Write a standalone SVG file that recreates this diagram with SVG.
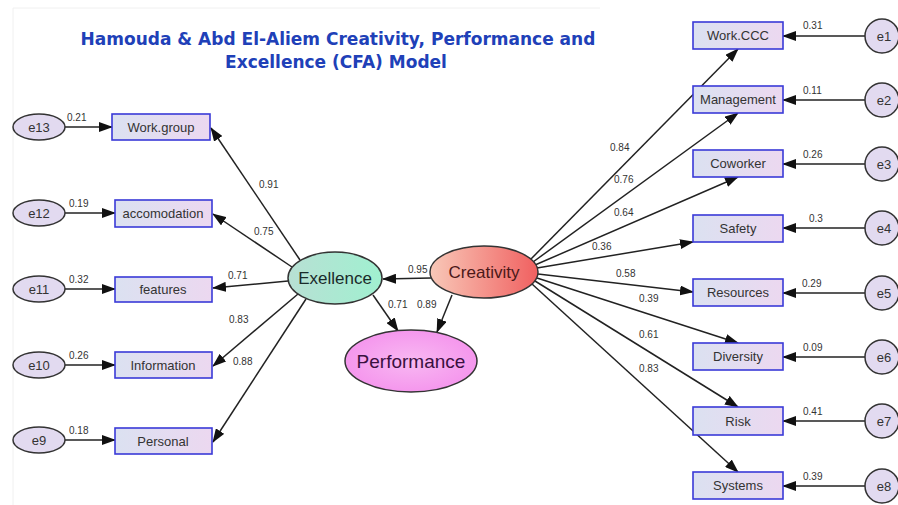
<svg xmlns="http://www.w3.org/2000/svg" width="898" height="505" viewBox="0 0 898 505">
<defs>
<linearGradient id="gBox" x1="0" y1="0" x2="1" y2="0"><stop offset="0" stop-color="#dbe1f1"/><stop offset="1" stop-color="#ecd8f0"/></linearGradient>
<linearGradient id="gCre" x1="0" y1="0" x2="1" y2="0"><stop offset="0" stop-color="#f8c8b8"/><stop offset="1" stop-color="#f06060"/></linearGradient>
<linearGradient id="gExe" x1="0" y1="0" x2="1" y2="0"><stop offset="0" stop-color="#b8e0d4"/><stop offset="1" stop-color="#a0f0d0"/></linearGradient>
<radialGradient id="gPer" cx="0.5" cy="0.5" r="0.6"><stop offset="0" stop-color="#f8b8f2"/><stop offset="1" stop-color="#f490ec"/></radialGradient>
<marker id="ah" markerUnits="userSpaceOnUse" markerWidth="14" markerHeight="10" refX="13" refY="5" orient="auto"><path d="M0,0 L14,5 L0,10 Z" fill="#111"/></marker>
<style>
.box{fill:url(#gBox);stroke:#3a3ad8;stroke-width:1.6}
.err{fill:#e2daf0;stroke:#333;stroke-width:1.5}
.lbl{font-family:"Liberation Sans",Arial,sans-serif;font-size:13px;fill:#333;text-anchor:middle}
.num{font-family:"Liberation Sans",Arial,sans-serif;font-size:10px;fill:#333}
.edge{stroke:#222;stroke-width:1.5;fill:none;marker-end:url(#ah)}
.title{font-family:"DejaVu Sans",Verdana,sans-serif;font-weight:bold;font-size:17px;fill:#2040b8;text-anchor:middle}
</style>
</defs>
<rect width="898" height="505" fill="#fff"/>
<path d="M13,8 V505 M13,8 H600" stroke="#f0f0f0" stroke-width="1" fill="none"/>
<text class="title" x="338" y="45">Hamouda &amp; Abd El-Aliem Creativity, Performance and</text>
<text class="title" x="336" y="68">Excellence (CFA) Model</text>

<g id="connectors">
<line class="edge" x1="65" y1="127" x2="112" y2="127"/>
<line class="edge" x1="65" y1="213" x2="115" y2="213"/>
<line class="edge" x1="65" y1="289" x2="115" y2="289"/>
<line class="edge" x1="65" y1="365" x2="115" y2="365"/>
<line class="edge" x1="65" y1="440" x2="115" y2="440"/>
<line class="edge" x1="300" y1="260" x2="211" y2="128"/>
<line class="edge" x1="292" y1="267" x2="213" y2="214"/>
<line class="edge" x1="288" y1="281" x2="213" y2="288"/>
<line class="edge" x1="298" y1="294" x2="213" y2="366"/>
<line class="edge" x1="306" y1="299" x2="213" y2="442"/>
<line class="edge" x1="431" y1="278" x2="383" y2="279"/>
<line class="edge" x1="373" y1="295" x2="398" y2="331"/>
<line class="edge" x1="452" y1="295" x2="437" y2="332"/>
<line class="edge" x1="530" y1="260" x2="738" y2="49"/>
<line class="edge" x1="533" y1="262" x2="738" y2="113"/>
<line class="edge" x1="535" y1="265" x2="738" y2="177"/>
<line class="edge" x1="537" y1="268" x2="693" y2="242"/>
<line class="edge" x1="538" y1="274" x2="693" y2="292"/>
<line class="edge" x1="537" y1="278" x2="738" y2="343"/>
<line class="edge" x1="535" y1="281" x2="738" y2="407"/>
<line class="edge" x1="532" y1="284" x2="738" y2="472"/>
<line class="edge" x1="865" y1="36" x2="783" y2="36"/>
<line class="edge" x1="865" y1="100" x2="783" y2="100"/>
<line class="edge" x1="865" y1="164" x2="783" y2="164"/>
<line class="edge" x1="865" y1="228" x2="783" y2="228"/>
<line class="edge" x1="865" y1="293" x2="783" y2="293"/>
<line class="edge" x1="865" y1="357" x2="783" y2="357"/>
<line class="edge" x1="865" y1="421" x2="783" y2="421"/>
<line class="edge" x1="865" y1="486" x2="783" y2="486"/>
</g>

<g id="edge-labels">
<text class="num" x="67" y="121">0.21</text>
<text class="num" x="69" y="207">0.19</text>
<text class="num" x="69" y="283">0.32</text>
<text class="num" x="69" y="359">0.26</text>
<text class="num" x="69" y="434">0.18</text>
<text class="num" x="259" y="188">0.91</text>
<text class="num" x="254" y="235">0.75</text>
<text class="num" x="228" y="279">0.71</text>
<text class="num" x="229" y="323">0.83</text>
<text class="num" x="233" y="365">0.88</text>
<text class="num" x="408" y="273">0.95</text>
<text class="num" x="388" y="308">0.71</text>
<text class="num" x="417" y="308">0.89</text>
<text class="num" x="610" y="151">0.84</text>
<text class="num" x="614" y="183">0.76</text>
<text class="num" x="614" y="216">0.64</text>
<text class="num" x="592" y="250">0.36</text>
<text class="num" x="616" y="277">0.58</text>
<text class="num" x="639" y="302">0.39</text>
<text class="num" x="639" y="338">0.61</text>
<text class="num" x="639" y="372">0.83</text>
<text class="num" x="803" y="29">0.31</text>
<text class="num" x="803" y="94">0.11</text>
<text class="num" x="803" y="158">0.26</text>
<text class="num" x="809" y="222">0.3</text>
<text class="num" x="802" y="287">0.29</text>
<text class="num" x="803" y="351">0.09</text>
<text class="num" x="803" y="415">0.41</text>
<text class="num" x="803" y="480">0.39</text>
</g>

<g id="e13"><ellipse class="err" cx="39" cy="127" rx="26" ry="13"/><text class="lbl" x="39" y="132">e13</text></g>
<g id="e12"><ellipse class="err" cx="39" cy="213" rx="26" ry="13"/><text class="lbl" x="39" y="218">e12</text></g>
<g id="e11"><ellipse class="err" cx="39" cy="289" rx="26" ry="13"/><text class="lbl" x="39" y="294">e11</text></g>
<g id="e10"><ellipse class="err" cx="39" cy="365" rx="26" ry="13"/><text class="lbl" x="39" y="370">e10</text></g>
<g id="e9"><ellipse class="err" cx="39" cy="440" rx="26" ry="13"/><text class="lbl" x="39" y="445">e9</text></g>

<g id="workgroup"><rect class="box" x="112" y="114" width="98" height="26"/><text class="lbl" x="161" y="132">Work.group</text></g>
<g id="accomodation"><rect class="box" x="115" y="200" width="97" height="27"/><text class="lbl" x="163" y="218">accomodation</text></g>
<g id="features"><rect class="box" x="115" y="277" width="97" height="25"/><text class="lbl" x="163" y="294">features</text></g>
<g id="information"><rect class="box" x="115" y="352" width="97" height="26"/><text class="lbl" x="163" y="370">Information</text></g>
<g id="personal"><rect class="box" x="115" y="428" width="97" height="26"/><text class="lbl" x="163" y="446">Personal</text></g>

<g id="exellence"><ellipse cx="335" cy="278" rx="47" ry="26" fill="url(#gExe)" stroke="#333" stroke-width="1.5"/><text x="335" y="284" font-family="Liberation Sans,Arial,sans-serif" font-size="17" fill="#1a2a2a" text-anchor="middle">Exellence</text></g>
<g id="creativity"><ellipse cx="484" cy="272" rx="54" ry="26" fill="url(#gCre)" stroke="#333" stroke-width="1.5"/><text x="484" y="278" font-family="Liberation Sans,Arial,sans-serif" font-size="17" fill="#4a1818" text-anchor="middle">Creativity</text></g>
<g id="performance"><ellipse cx="411" cy="361" rx="66" ry="31" fill="url(#gPer)" stroke="#333" stroke-width="1.5"/><text x="411" y="368" font-family="Liberation Sans,Arial,sans-serif" font-size="19" fill="#3a1040" text-anchor="middle">Performance</text></g>

<g id="workccc"><rect class="box" x="693" y="22" width="90" height="27"/><text class="lbl" x="738" y="40">Work.CCC</text></g>
<g id="management"><rect class="box" x="693" y="86" width="90" height="27"/><text class="lbl" x="738" y="104">Management</text></g>
<g id="coworker"><rect class="box" x="693" y="150" width="90" height="27"/><text class="lbl" x="738" y="168">Coworker</text></g>
<g id="safety"><rect class="box" x="693" y="215" width="90" height="27"/><text class="lbl" x="738" y="233">Safety</text></g>
<g id="resources"><rect class="box" x="693" y="279" width="90" height="27"/><text class="lbl" x="738" y="297">Resources</text></g>
<g id="diversity"><rect class="box" x="693" y="343" width="90" height="27"/><text class="lbl" x="738" y="361">Diversity</text></g>
<g id="risk"><rect class="box" x="693" y="407" width="90" height="28"/><text class="lbl" x="738" y="426">Risk</text></g>
<g id="systems"><rect class="box" x="693" y="472" width="90" height="27"/><text class="lbl" x="738" y="490">Systems</text></g>

<g id="e1"><circle class="err" cx="882" cy="36" r="17"/><text class="lbl" x="884" y="41">e1</text></g>
<g id="e2"><circle class="err" cx="882" cy="100" r="17"/><text class="lbl" x="884" y="105">e2</text></g>
<g id="e3"><circle class="err" cx="882" cy="164" r="17"/><text class="lbl" x="884" y="169">e3</text></g>
<g id="e4"><circle class="err" cx="882" cy="228" r="17"/><text class="lbl" x="884" y="233">e4</text></g>
<g id="e5"><circle class="err" cx="882" cy="293" r="17"/><text class="lbl" x="884" y="298">e5</text></g>
<g id="e6"><circle class="err" cx="882" cy="357" r="17"/><text class="lbl" x="884" y="362">e6</text></g>
<g id="e7"><circle class="err" cx="882" cy="421" r="17"/><text class="lbl" x="884" y="426">e7</text></g>
<g id="e8"><circle class="err" cx="882" cy="486" r="17"/><text class="lbl" x="884" y="491">e8</text></g>
</svg>
